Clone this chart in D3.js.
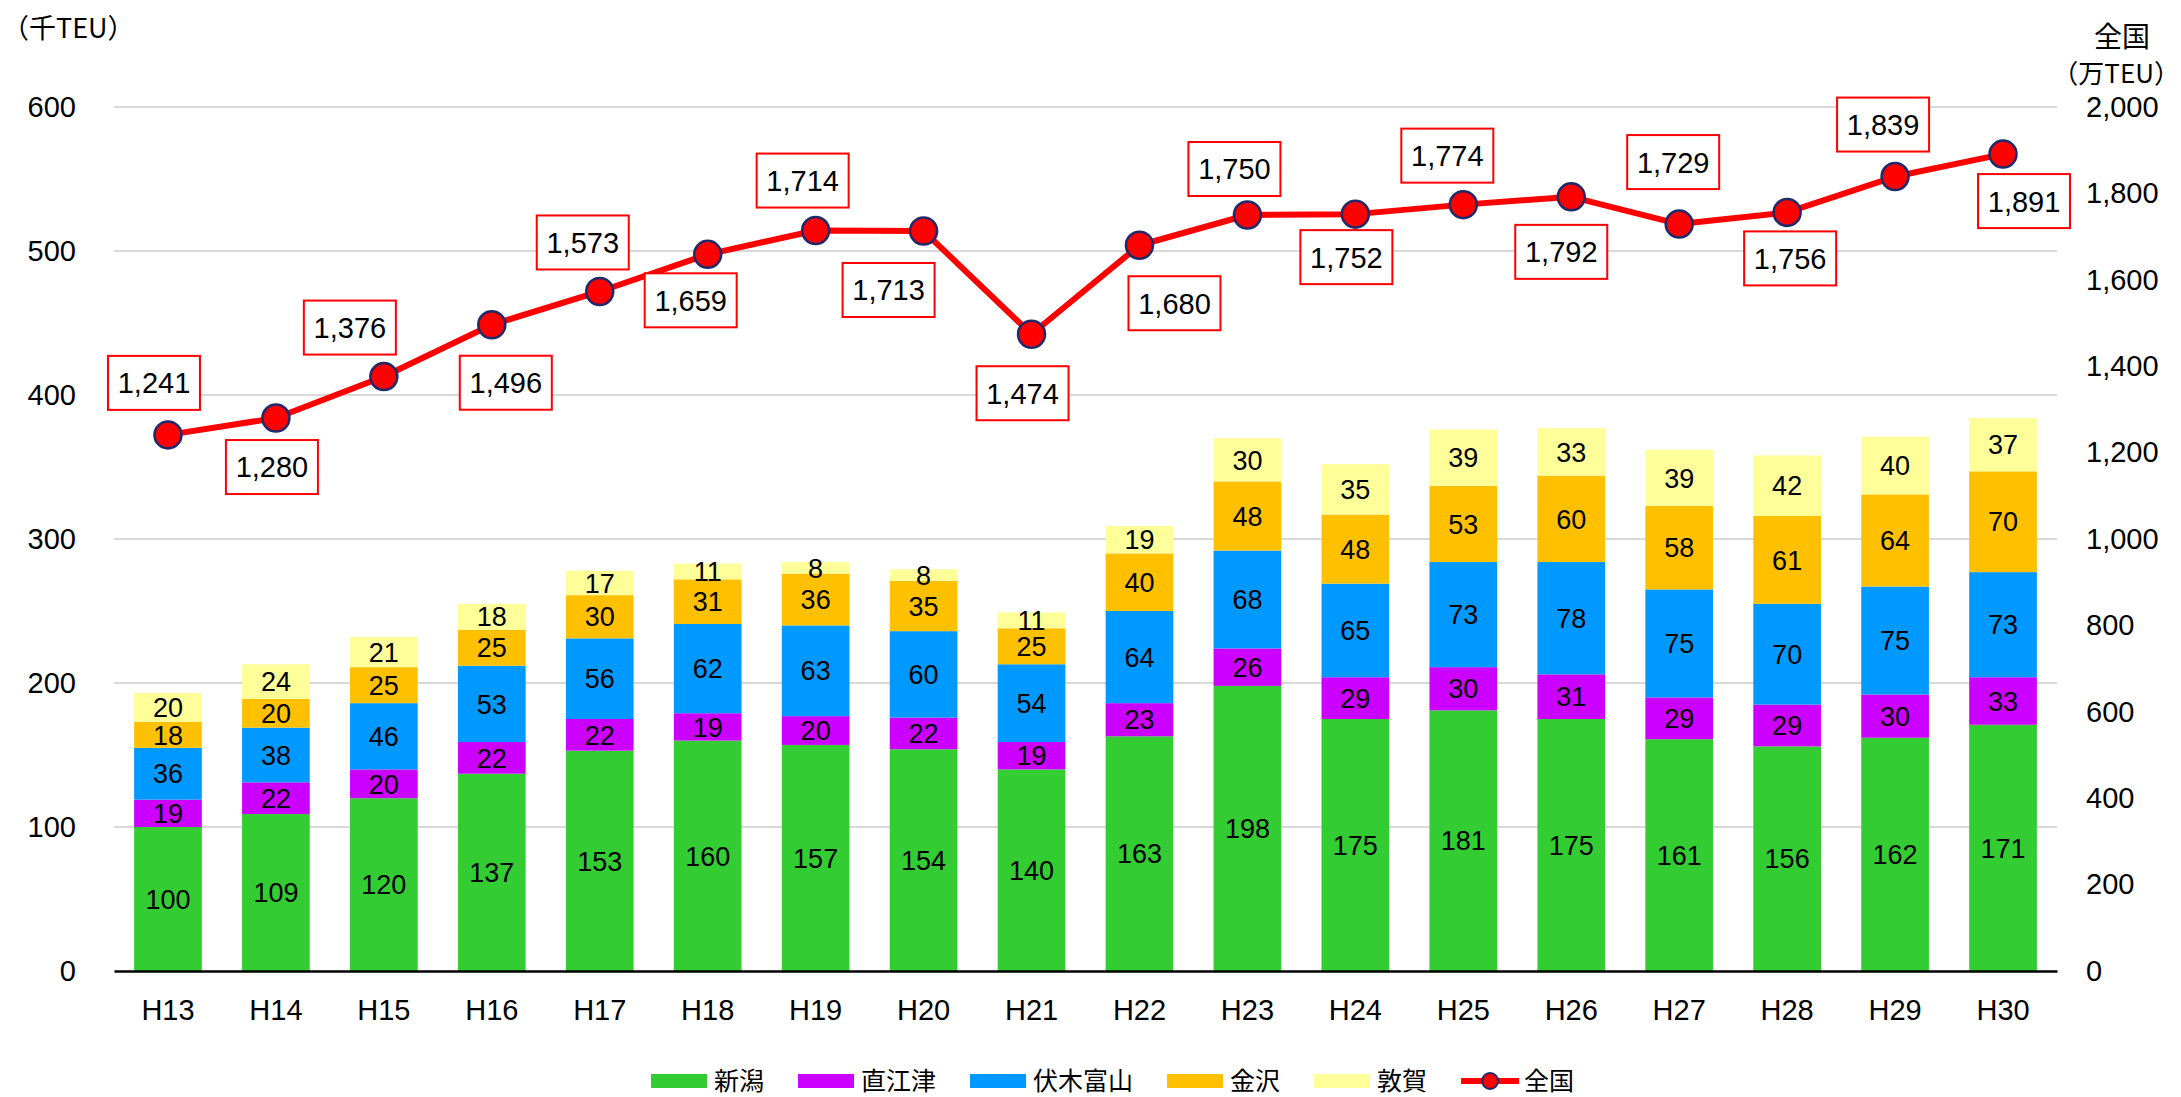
<!DOCTYPE html>
<html>
<head>
<meta charset="utf-8">
<script src="https://cdn.jsdelivr.net/npm/d3@7"></script>
<style>
  body { margin: 0; background: #fff; }
  svg text { font-family: "Liberation Sans", Arial, "Noto Sans CJK JP", sans-serif; fill: #000; }
  svg text.jp { font-family: "Noto Sans CJK JP", sans-serif; }
</style>
</head>
<body>
<div id="chart"></div>
<script>
// data
var years = ["H13","H14","H15","H16","H17","H18","H19","H20","H21","H22","H23","H24","H25","H26","H27","H28","H29","H30"];
var seriesNames = ["新潟", "直江津", "伏木富山", "金沢", "敦賀"];
var niigata   = [100,109,120,137,153,160,157,154,140,163,198,175,181,175,161,156,162,171];
var naoetsu   = [19,22,20,22,22,19,20,22,19,23,26,29,30,31,29,29,30,33];
var fushiki   = [36,38,46,53,56,62,63,60,54,64,68,65,73,78,75,70,75,73];
var kanazawa  = [18,20,25,25,30,31,36,35,25,40,48,48,53,60,58,61,64,70];
var tsuruga   = [20,24,21,18,17,11,8,8,11,19,30,35,39,33,39,42,40,37];
var zenkoku   = [1241,1280,1376,1496,1573,1659,1714,1713,1474,1680,1750,1752,1774,1792,1729,1756,1839,1891];
var leftTicks  = [0,100,200,300,400,500,600];
var rightTicks = [0,200,400,600,800,1000,1200,1400,1600,1800,2000];

// label placement for the 全国 line (offset of box centre from point)
var labelOffset = [[-14,-52],[-4,49],[-34,-49],[14,58],[-17,-49],[-17,46],[-13,-50],[-35,59],[-9,59],
                   [35,58],[-13,-46],[-9,43],[-16,-49],[-10,55],[-6,-62],[3,46],[-12,-52],[21,47]];

var colors = ["#33CC33", "#CC00FF", "#0099FF", "#FFC000", "#FFFF99"];

var svgWidth = 2181, svgHeight = 1097;
var plotLeft = 114, plotRight = 2057, plotTop = 107, plotBottom = 971;

var svg = d3.select("#chart").append("svg")
    .attr("width", svgWidth)
    .attr("height", svgHeight);

var x = d3.scaleBand().domain(years).range([plotLeft, plotRight]).paddingInner(0.373).paddingOuter(0.1865);
var yLeft = d3.scaleLinear().domain([0, 600]).range([plotBottom, plotTop]);
var yRight = d3.scaleLinear().domain([0, 2000]).range([plotBottom, plotTop]);

// gridlines
svg.append("g").selectAll("line")
    .data(leftTicks.filter(d => d > 0))
    .enter().append("line")
    .attr("x1", plotLeft).attr("x2", plotRight)
    .attr("y1", d => yLeft(d)).attr("y2", d => yLeft(d))
    .attr("stroke", "#d9d9d9").attr("stroke-width", 2);

// left axis
var leftAxis = svg.append("g")
    .attr("transform", `translate(${plotLeft}, 0)`)
    .call(d3.axisLeft(yLeft).tickValues(leftTicks).tickSize(0).tickPadding(38));
leftAxis.select(".domain").remove();
leftAxis.selectAll("text").style("font-size", "29px");

// right axis
var rightAxis = svg.append("g")
    .attr("transform", `translate(${plotRight}, 0)`)
    .call(d3.axisRight(yRight).tickValues(rightTicks).tickSize(0).tickPadding(29).tickFormat(d3.format(",")));
rightAxis.select(".domain").remove();
rightAxis.selectAll("text").style("font-size", "29px");

// stacked bars
var table = years.map(function (yr, i) {
    return { year: yr, s0: niigata[i], s1: naoetsu[i], s2: fushiki[i], s3: kanazawa[i], s4: tsuruga[i] };
});
var stack = d3.stack().keys(["s0","s1","s2","s3","s4"])(table);

var layers = svg.append("g").selectAll("g")
    .data(stack)
    .enter().append("g")
    .attr("fill", (d, i) => colors[i]);

layers.selectAll("rect")
    .data(d => d)
    .enter().append("rect")
    .attr("x", d => x(d.data.year))
    .attr("width", x.bandwidth())
    .attr("y", d => yLeft(d[1]))
    .attr("height", d => yLeft(d[0]) - yLeft(d[1]));

layers.selectAll("text")
    .data(d => d)
    .enter().append("text")
    .attr("x", d => x(d.data.year) + x.bandwidth() / 2)
    .attr("y", d => (yLeft(d[0]) + yLeft(d[1])) / 2)
    .attr("dy", "0.36em")
    .attr("text-anchor", "middle")
    .style("font-size", "27px")
    .text(d => d[1] - d[0]);

// x axis
var xAxis = svg.append("g")
    .attr("transform", `translate(0, ${plotBottom})`)
    .call(d3.axisBottom(x).tickSize(0).tickPadding(28));
xAxis.select(".domain").attr("stroke", "#000").attr("stroke-width", 2.5);
xAxis.selectAll("text").style("font-size", "29px");

// 全国 line
var line = d3.line()
    .x((d, i) => x(years[i]) + x.bandwidth() / 2)
    .y(d => yRight(d));

svg.append("path")
    .datum(zenkoku)
    .attr("d", line)
    .attr("fill", "none")
    .attr("stroke", "#FF0000")
    .attr("stroke-width", 6)
    .attr("stroke-linejoin", "round");

svg.append("g").selectAll("circle")
    .data(zenkoku)
    .enter().append("circle")
    .attr("cx", (d, i) => x(years[i]) + x.bandwidth() / 2)
    .attr("cy", d => yRight(d))
    .attr("r", 13.5)
    .attr("fill", "#FF0000")
    .attr("stroke", "#1F2A6B")
    .attr("stroke-width", 2.5);

// line labels
var labels = svg.append("g").selectAll("g")
    .data(zenkoku)
    .enter().append("g")
    .attr("transform", (d, i) => `translate(${x(years[i]) + x.bandwidth() / 2 + labelOffset[i][0]}, ${yRight(d) + labelOffset[i][1]})`);

labels.append("rect")
    .attr("x", -46).attr("y", -27)
    .attr("width", 92).attr("height", 54)
    .attr("fill", "#fff")
    .attr("stroke", "#FF0000")
    .attr("stroke-width", 2);

labels.append("text")
    .attr("text-anchor", "middle")
    .attr("dy", "0.36em")
    .style("font-size", "29px")
    .text(d => d3.format(",")(d));

// axis titles
svg.append("text")
    .attr("class", "jp")
    .attr("x", 2).attr("y", 38)
    .style("font-size", "27px")
    .text("（千TEU）");

svg.append("text")
    .attr("class", "jp")
    .attr("x", 2122).attr("y", 47)
    .attr("text-anchor", "middle")
    .style("font-size", "28px")
    .text("全国");

svg.append("text")
    .attr("class", "jp")
    .attr("x", 2180).attr("y", 83)
    .attr("text-anchor", "end")
    .style("font-size", "26px")
    .text("（万TEU）");

// legend
var legend = svg.append("g").attr("transform", "translate(651, 1081)");
var lx = 0;
seriesNames.concat(["全国"]).forEach(function (name, i) {
    var item = legend.append("g").attr("transform", `translate(${lx}, 0)`);
    if (i < seriesNames.length) {
        item.append("rect")
            .attr("x", 0).attr("y", -7)
            .attr("width", 56).attr("height", 14)
            .attr("fill", colors[i]);
    } else {
        item.append("line")
            .attr("x1", 0).attr("x2", 58)
            .attr("y1", 0).attr("y2", 0)
            .attr("stroke", "#FF0000").attr("stroke-width", 6);
        item.append("circle")
            .attr("cx", 29).attr("cy", 0).attr("r", 8)
            .attr("fill", "#FF0000")
            .attr("stroke", "#1F2A6B").attr("stroke-width", 2);
    }
    var t = item.append("text")
        .attr("class", "jp")
        .attr("x", 63)
        .attr("dy", "0.36em")
        .style("font-size", "25px")
        .text(name);
    lx += 63 + t.node().getComputedTextLength() + 34;
});
</script>
</body>
</html>
